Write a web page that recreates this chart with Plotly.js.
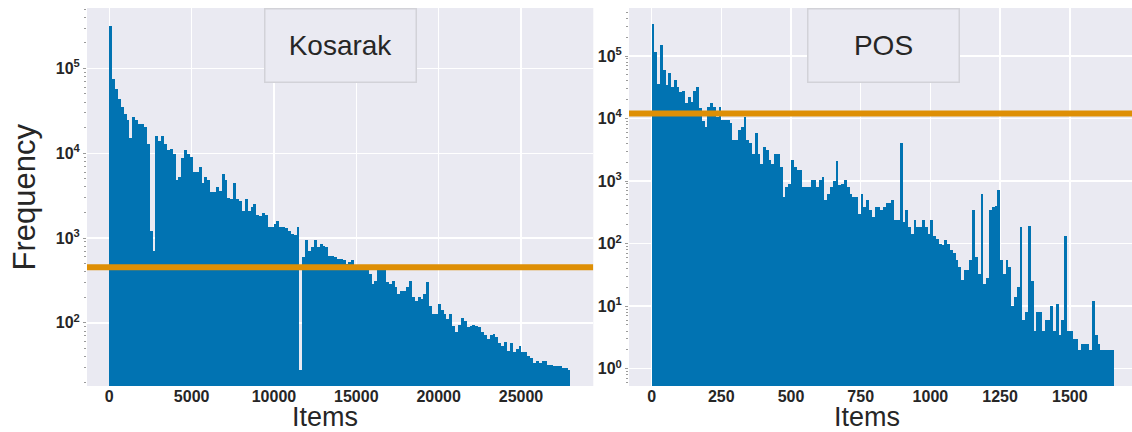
<!DOCTYPE html>
<html>
<head>
<meta charset="utf-8">
<script src="https://cdn.plot.ly/plotly-3.0.1.min.js"></script>
<style>html,body{margin:0;padding:0;background:#fff;}#chart{width:1132px;height:432px;}</style>
</head>
<body>
<div id="chart"></div>
<script>
// Item frequencies, binned: Kosarak bins of 175 items, POS bins of 10 items
const KOS_BIN = 175;
const POS_BIN = 10;

const kosarakFreq = [
  320000,76000,58000,44000,35000,29000,24500,15000,27000,24500,
  22000,22000,20500,13000,1200,700,16000,14000,16000,13000,
  10800,11300,9900,4800,5200,8700,10800,9900,9000,6000,
  6000,6900,4400,5200,4800,3500,3500,4000,3600,5700,
  4800,3000,2850,4400,2850,2700,2100,2850,2100,2300,
  2500,1850,1800,2000,1850,1340,1340,1450,1600,1340,
  1340,1300,1200,1130,1100,1340,28,600,940,710,
  780,940,780,850,810,780,620,620,600,570,
  570,550,490,520,550,420,420,430,450,420,
  380,290,315,450,420,450,300,290,315,265,
  220,240,240,265,315,200,180,200,190,220,
  300,160,126,126,165,140,126,110,126,92,
  78,95,115,105,89,92,95,92,89,78,
  71,65,71,74,68,58,53,60,47,58,
  45,49,53,45,45,41,39,34,35,34,
  35,35,32,32,31,31,31,29,29,28
];

const posFreq = [
  320000,118000,36000,150000,60000,35000,53000,32000,41000,32000,
  27000,28000,17500,22000,18500,28000,32000,14500,9000,7400,
  15500,17500,15500,10700,15500,9500,9500,9500,8400,4600,
  4600,6600,7400,10700,4600,4000,2750,5800,2750,1900,
  3500,3150,2200,1900,2750,2750,1700,560,810,910,
  2200,1700,1500,1500,810,810,810,1050,1050,810,
  1050,1170,500,630,810,1000,2100,870,900,1050,
  810,630,560,560,300,630,390,500,345,270,
  390,390,345,390,440,440,500,240,240,4000,
  225,345,185,145,240,185,185,240,185,145,
  240,130,120,100,95,115,100,80,70,55,
  43,26,38,38,55,350,60,33,630,23,
  28,350,390,400,720,55,33,55,43,10,
  14,20,185,6,8,190,25,4,8,8,
  4,6,6,10,4,11,3.5,6,130,4,
  4,3,3,2,2.5,2.5,2.5,2,12,3.5,
  2.5,2,2,2,2,2
];

const kosarakThreshold = 452;
const posThreshold = 12000;

const kosRange = [-1354, 29392];
const posRange = [-81, 1723];

const kosXTicks = [0,5000,10000,15000,20000,25000];
const posXTicks = [0,250,500,750,1000,1250,1500];
const kosYExponents = [2,3,4,5];
const posYExponents = [0,1,2,3,4,5];

const BLUE = '#0173B2';
const ORANGE = '#DE8F05';
const FONT = 'Liberation Sans, Arial, sans-serif';

const kosX = kosarakFreq.map((_, i) => i * KOS_BIN);
const posX = posFreq.map((_, i) => i * POS_BIN);

const traces = [
  {type:'bar', x:kosX, y:kosarakFreq, width:KOS_BIN, offset:0,
   marker:{color:BLUE, line:{width:0}}, xaxis:'x', yaxis:'y'},
  {type:'scatter', mode:'lines', x:kosRange, y:[kosarakThreshold,kosarakThreshold],
   line:{color:ORANGE, width:6}, xaxis:'x', yaxis:'y'},
  {type:'bar', x:posX, y:posFreq, width:POS_BIN, offset:0,
   marker:{color:BLUE, line:{width:0}}, xaxis:'x2', yaxis:'y2'},
  {type:'scatter', mode:'lines', x:posRange, y:[posThreshold,posThreshold],
   line:{color:ORANGE, width:6}, xaxis:'x2', yaxis:'y2'}
];

const tickFont = {family:FONT, size:16, color:'#262626', weight:'bold'};
const gridCommon = {showgrid:true, gridcolor:'#FFFFFF', gridwidth:1.5, zeroline:false, showline:false};

function yAxis(exps, range) {
  return Object.assign({}, gridCommon, {
    type:'log', range:range, domain:[0,1],
    tickvals: exps.map(e => Math.pow(10, e)),
    ticktext: exps.map(e => '10<sup>' + e + '</sup>'),
    ticks:'outside', ticklen:3, tickcolor:'#9a9a9a', tickwidth:1,
    tickfont:tickFont,
    minor:{ticks:'outside', ticklen:2, tickcolor:'#9a9a9a', tickwidth:1, dtick:'D1', showgrid:false}
  });
}
function xAxis(ticks, range, domain) {
  return Object.assign({}, gridCommon, {
    range:range, domain:domain, ticks:'', tickfont:tickFont,
    ticklabelstandoff:-1,
    tickvals:ticks, ticktext:ticks.map(String)
  });
}

const layout = {
  width:1132, height:432,
  paper_bgcolor:'#FFFFFF', plot_bgcolor:'#EAEAF2',
  margin:{l:0, r:0, t:8, b:46},
  showlegend:false, bargap:0,
  xaxis: Object.assign(xAxis(kosXTicks, kosRange, [87/1132, 593.3/1132]), {anchor:'y'}),
  yaxis: Object.assign(yAxis(kosYExponents, [1.255, 5.713]), {anchor:'x'}),
  xaxis2: Object.assign(xAxis(posXTicks, posRange, [629/1132, 1]), {anchor:'y2'}),
  yaxis2: Object.assign(yAxis(posYExponents, [-0.277, 5.768]), {anchor:'x2'}),
  annotations: [
    {text:'Kosarak', xref:'paper', yref:'paper', x:264/1132, y:1, xanchor:'left', yanchor:'top',
     showarrow:false, width:148, height:70, bgcolor:'#EAEAF2', bordercolor:'#D2D2D8', borderwidth:1.5,
     font:{family:FONT, size:28, color:'#262626'}},
    {text:'POS', xref:'paper', yref:'paper', x:806.7/1132, y:1, xanchor:'left', yanchor:'top',
     showarrow:false, width:148, height:70, bgcolor:'#EAEAF2', bordercolor:'#D2D2D8', borderwidth:1.5,
     font:{family:FONT, size:28, color:'#262626'}},
    {text:'Items', xref:'paper', yref:'paper', x:325/1132, y:-0.082, xanchor:'center', yanchor:'middle',
     showarrow:false, font:{family:FONT, size:27, color:'#262626'}},
    {text:'Items', xref:'paper', yref:'paper', x:867/1132, y:-0.082, xanchor:'center', yanchor:'middle',
     showarrow:false, font:{family:FONT, size:27, color:'#262626'}},
    {text:'Frequency', xref:'paper', yref:'paper', x:4/1132, y:0.5, xanchor:'left', yanchor:'middle',
     textangle:-90, showarrow:false, font:{family:FONT, size:31, color:'#262626'}}
  ]
};

Plotly.newPlot('chart', traces, layout, {displayModeBar:false, staticPlot:true});
</script>
</body>
</html>
